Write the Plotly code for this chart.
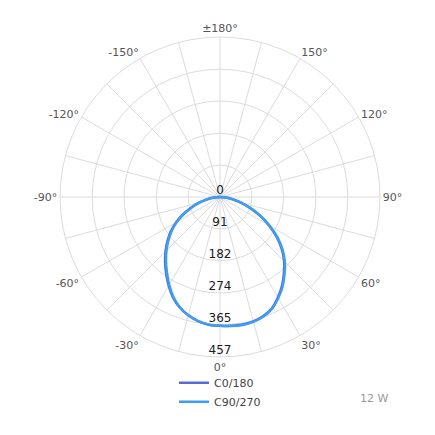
import plotly.graph_objects as go

# Gamma angles (0° = straight down, positive towards the right side)
angles = [-90, -85, -80, -75, -70, -65, -60, -55, -50, -45, -40, -35, -30, -25, -20, -15, -10, -5,
          0, 5, 10, 15, 20, 25, 30, 35, 40, 45, 50, 55, 60, 65, 70, 75, 80, 85, 90]

c0_180 = [0, 18, 38, 60, 86, 115, 145, 172, 196, 220, 244, 268, 293, 317, 336, 350, 360, 366,
          368, 369, 370, 368, 362, 351, 331, 309, 284, 259, 230, 197, 161, 126, 91, 62, 38, 18, 0]

c90_270 = [0, 18, 38, 60, 85, 113, 142, 168, 192, 216, 240, 264, 290, 315, 335, 350, 360, 366,
           368, 370, 371, 369, 363, 352, 333, 312, 287, 262, 233, 200, 163, 127, 92, 62, 38, 18, 0]

radial_vals = [0, 91, 182, 274, 365, 457]
radial_text = ["0", "91", "182", "274", "365", "457"]

ang_tickvals = list(range(0, 360, 15))
ang_labels = {0: "0°", 30: "30°", 60: "60°", 90: "90°", 120: "120°", 150: "150°",
              180: "±180°", 210: "-150°", 240: "-120°", 270: "-90°", 300: "-60°", 330: "-30°"}
ang_ticktext = [ang_labels.get(v, "") for v in ang_tickvals]

FONT = "DejaVu Sans"

fig = go.Figure()
fig.add_trace(go.Scatterpolar(
    r=c0_180, theta=angles, mode="lines", name="C0/180",
    line=dict(color="#5a6bd6", width=2.5, shape="spline"), hoverinfo="skip"))
fig.add_trace(go.Scatterpolar(
    r=c90_270, theta=angles, mode="lines", name="C90/270",
    line=dict(color="#3d9df0", width=2.5, shape="spline"), hoverinfo="skip"))
fig.add_trace(go.Scatterpolar(
    r=radial_vals, theta=[0] * len(radial_vals), mode="text", text=radial_text,
    textposition="top center", showlegend=False,
    textfont=dict(family=FONT, size=12, color="#1a1a1a"), hoverinfo="skip"))

fig.update_layout(
    width=435, height=435,
    margin=dict(l=0, r=0, t=0, b=0),
    paper_bgcolor="white",
    font=dict(family=FONT, size=11, color="#555555"),
    polar=dict(
        domain=dict(x=[0.1195, 0.8552], y=[0.1977, 0.9333]),
        bgcolor="white",
        angularaxis=dict(
            rotation=-90, direction="counterclockwise",
            tickmode="array", tickvals=ang_tickvals, ticktext=ang_ticktext,
            showgrid=True, gridcolor="#dcdcdc", gridwidth=1,
            showline=True, linecolor="#dcdcdc", linewidth=1,
            ticks="", tickfont=dict(family=FONT, size=11, color="#555555"),
        ),
        radialaxis=dict(
            range=[0, 457], tickmode="array", tickvals=radial_vals[1:],
            showticklabels=False, ticks="", showline=False,
            showgrid=True, gridcolor="#dcdcdc", gridwidth=1,
        ),
    ),
    legend=dict(
        x=0.3816, y=0.1717, xanchor="left", yanchor="top",
        font=dict(family=FONT, size=11, color="#444444"),
        bgcolor="rgba(0,0,0,0)", tracegroupgap=0, itemwidth=30,
    ),
    annotations=[dict(
        text="12 W", xref="paper", yref="paper", x=0.878, y=0.1034,
        xanchor="right", yanchor="middle", showarrow=False,
        font=dict(family=FONT, size=11, color="#999999"))],
)

fig.write_html("out.html")
